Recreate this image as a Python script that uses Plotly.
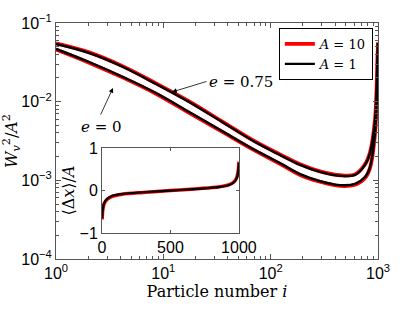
import plotly.graph_objects as go

# Main plot data
i_pts = [1, 2.03, 4.21, 8.54, 17.4, 35.2, 71.5, 122, 188, 288, 443, 611, 757, 843, 938, 979, 1000]
w_e075_A1 = [0.0541, 0.0416, 0.0276, 0.0168, 0.0099, 0.00552, 0.00307, 0.00210, 0.00157, 0.00128,
             0.00114, 0.00117, 0.00157, 0.00223, 0.00585, 0.0218, 0.0557]
w_e075_A10 = [0.0550, 0.0423, 0.0281, 0.0171, 0.0101, 0.00562, 0.00312, 0.00214, 0.00160, 0.00130,
              0.00116, 0.00119, 0.00160, 0.00228, 0.0060, 0.0224, 0.0570]
w_e0_A1 = [0.0468, 0.0319, 0.0206, 0.0129, 0.0074, 0.00424, 0.00243, 0.00166, 0.00120, 0.00098,
           0.00087, 0.00090, 0.00110, 0.00148, 0.0040, 0.0141, 0.0557]
w_e0_A10 = [0.0460, 0.0313, 0.0202, 0.0126, 0.0072, 0.00415, 0.00238, 0.00162, 0.00117, 0.00096,
            0.00085, 0.00088, 0.00107, 0.00144, 0.0039, 0.0137, 0.0550]

# Inset data
in_i = [1, 5, 15, 36, 70, 150, 300, 500, 700, 850, 930, 965, 985, 995, 1000]
dx_A1 = [-0.65, -0.45, -0.3, -0.2, -0.13, -0.08, -0.04, 0.0, 0.04, 0.08, 0.13, 0.2, 0.3, 0.45, 0.65]
dx_A10 = [-0.68, -0.47, -0.31, -0.21, -0.14, -0.085, -0.045, 0.0, 0.045, 0.085, 0.14, 0.21, 0.31, 0.47, 0.68]

RED = "#ff0000"
BLK = "#000000"
SERIF = "DejaVu Serif"
SANS = "Liberation Sans"

fig = go.Figure()
for ys, col, w, name, show in [
    (w_e075_A10, RED, 3.8, "<i>A</i> = 10", True),
    (w_e0_A10, RED, 3.8, None, False),
    (w_e075_A1, BLK, 2.3, "<i>A</i> = 1", True),
    (w_e0_A1, BLK, 2.3, None, False),
]:
    fig.add_trace(go.Scatter(x=i_pts, y=ys, mode="lines", line=dict(color=col, width=w, shape="spline", smoothing=1.0),
                             name=name, showlegend=show, xaxis="x", yaxis="y"))

fig.add_trace(go.Scatter(x=in_i, y=dx_A10, mode="lines", line=dict(color=RED, width=3.5, shape="spline", smoothing=0.8),
                         showlegend=False, xaxis="x2", yaxis="y2"))
fig.add_trace(go.Scatter(x=in_i, y=dx_A1, mode="lines", line=dict(color=BLK, width=2.2, shape="spline", smoothing=0.8),
                         showlegend=False, xaxis="x2", yaxis="y2"))

tickfont = dict(family=SANS, size=16, color="#000")
axcol = "#555"

fig.update_layout(
    width=415, height=313,
    margin=dict(l=56, r=37, t=23, b=54),
    paper_bgcolor="white", plot_bgcolor="white",
    showlegend=True,
    legend=dict(x=0.984, y=0.979, xanchor="right", yanchor="top", bgcolor="white",
                bordercolor="#000", borderwidth=1, font=dict(family=SERIF, size=13, color="#000"),
                tracegroupgap=0, itemwidth=30),
    xaxis=dict(type="log", range=[0, 3], domain=[0, 1], showline=True, mirror="ticks", linecolor=axcol, linewidth=1,
               ticks="inside", ticklen=5, tickcolor=axcol, showgrid=False, zeroline=False, automargin=False,
               tickvals=[1, 10, 100, 1000],
               ticktext=["10<sup>0</sup>", "10<sup>1</sup>", "10<sup>2</sup>", "10<sup>3</sup>"],
               tickfont=tickfont,
               minor=dict(ticks="inside", ticklen=3, tickcolor=axcol, dtick="D1"),
               title=dict(text="Particle number <i>i</i>", font=dict(family=SERIF, size=16, color="#000"), standoff=4)),
    yaxis=dict(type="log", range=[-4, -1], domain=[0, 1], showline=True, mirror="ticks", linecolor=axcol, linewidth=1,
               ticks="inside", ticklen=5, tickcolor=axcol, showgrid=False, zeroline=False, automargin=False,
               tickvals=[1e-4, 1e-3, 1e-2, 1e-1],
               ticktext=["10<sup>−4</sup>", "10<sup>−3</sup>", "10<sup>−2</sup>", "10<sup>−1</sup>"],
               tickfont=tickfont,
               minor=dict(ticks="inside", ticklen=3, tickcolor=axcol, dtick="D1"),
               title=dict(text="<i>W</i><sub><i>v</i></sub><sup>2</sup>/<i>A</i><sup>2</sup>",
                          font=dict(family=SERIF, size=16, color="#000"), standoff=0)),
    xaxis2=dict(domain=[0.143, 0.568], anchor="y2", range=[0, 1000], showline=True, mirror="ticks",
                linecolor=axcol, linewidth=1, ticks="inside", ticklen=3, tickcolor=axcol, showgrid=False,
                zeroline=False, tickvals=[0, 500, 1000], tickfont=tickfont, automargin=False),
    yaxis2=dict(domain=[0.11, 0.47], anchor="x2", range=[-1, 1], showline=True, mirror="ticks",
                linecolor=axcol, linewidth=1, ticks="inside", ticklen=3, tickcolor=axcol, showgrid=False,
                zeroline=False, tickvals=[-1, 0, 1], ticktext=["−1", "0", "1"], tickfont=tickfont, automargin=False,
                title=dict(text="⟨Δ<i>x</i>⟩/<i>A</i>", font=dict(family=SERIF, size=16, color="#000"), standoff=0)),
)

def px(xp):
    return (xp - 56) / 322

def py(yp):
    return (259 - yp) / 236

fig.add_annotation(x=px(172), y=py(92), xref="x domain", yref="y domain",
                   ax=px(208), ay=py(81), axref="x domain", ayref="y domain",
                   text="", showarrow=True, arrowhead=2, arrowsize=1.2, arrowwidth=0.8, arrowcolor="#000")
fig.add_annotation(x=px(207), y=py(82), xref="x domain", yref="y domain",
                   text="<i>e</i> = 0.75", showarrow=False, xanchor="left", yanchor="middle",
                   font=dict(family=SERIF, size=15, color="#000"))
fig.add_annotation(x=px(113), y=py(88), xref="x domain", yref="y domain",
                   ax=px(100), ay=py(116), axref="x domain", ayref="y domain",
                   text="", showarrow=True, arrowhead=2, arrowsize=1.2, arrowwidth=0.8, arrowcolor="#000")
fig.add_annotation(x=px(101), y=py(127), xref="x domain", yref="y domain",
                   text="<i>e</i> = 0", showarrow=False, xanchor="center", yanchor="middle",
                   font=dict(family=SERIF, size=15, color="#000"))

fig.write_html("out.html", config={"displayModeBar": False},
               post_script="document.body.style.margin='0';document.body.style.padding='0';")
